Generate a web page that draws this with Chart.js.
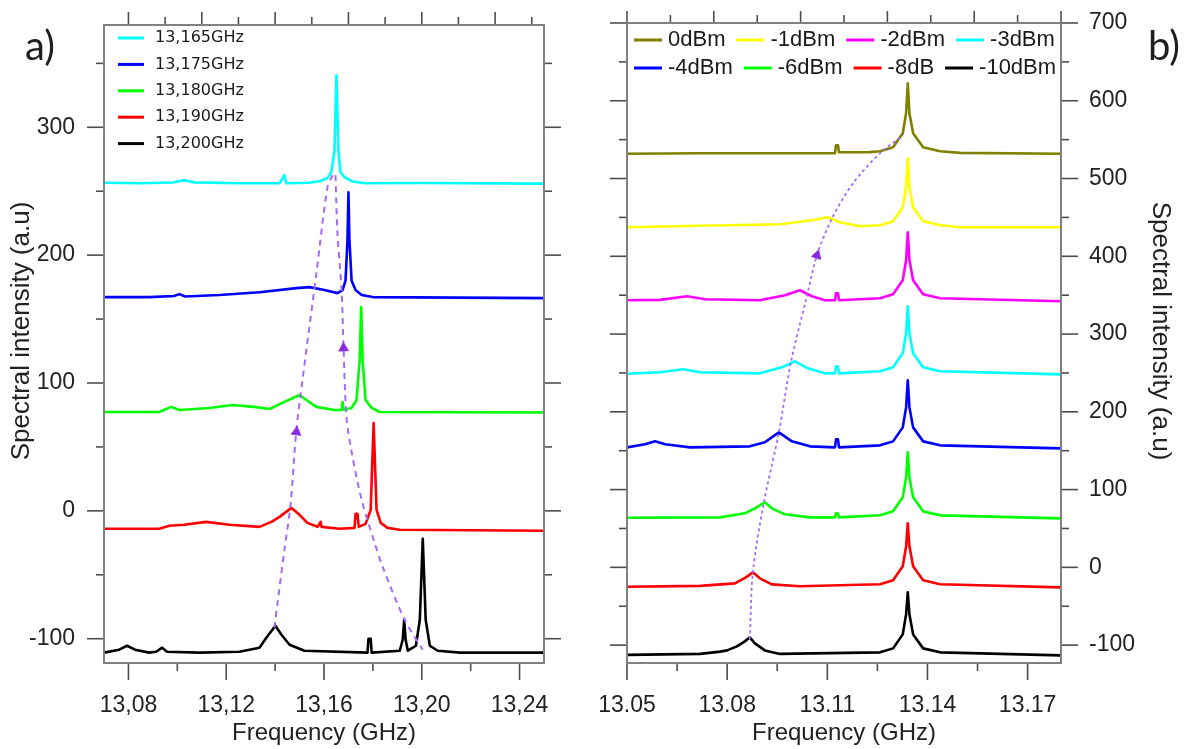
<!DOCTYPE html>
<html>
<head>
<meta charset="utf-8">
<title>Spectral intensity vs frequency</title>
<script src="https://cdn.jsdelivr.net/npm/chart.js@4.4.1/dist/chart.umd.min.js"></script>
<style>
  html, body { margin: 0; padding: 0; background: #ffffff; }
  #wrap { position: relative; width: 1185px; height: 749px; overflow: hidden; background: #ffffff; }
  #wrap canvas { position: absolute; top: 0; }
  #cA { left: 0; }
  #cB { left: 590px; }
</style>
</head>
<body>
<div id="wrap">
  <canvas id="cA" width="590" height="749"></canvas>
  <canvas id="cB" width="595" height="749"></canvas>
</div>
<script>
const FONT = '"Liberation Sans", Arial, Helvetica, sans-serif';

// ---------- panel a): spectra for several injection frequencies ----------
const keysA = ['13,165GHz', '13,175GHz', '13,180GHz', '13,190GHz', '13,200GHz'];

const specA165 = [[13.070, 256.6], [13.085, 256.2], [13.098, 256.8], [13.1028, 258.6], [13.107, 256.9], [13.125, 256.2], [13.1418, 256.2], [13.1438, 262.5], [13.1446, 256.2], [13.154, 256.6], [13.158, 257.8], [13.1614, 260.2], [13.163, 265], [13.1643, 282], [13.1647, 313], [13.1651, 340.6], [13.1655, 313], [13.1659, 282], [13.1667, 265], [13.1684, 261], [13.1713, 257.8], [13.1766, 256.2], [13.200, 256.4], [13.250, 255.9]];

const specA175 = [[13.070, 167.2], [13.0885, 167.2], [13.0987, 168], [13.1008, 169.5], [13.1032, 167.6], [13.1172, 168.8], [13.1336, 171], [13.1487, 174.2], [13.154, 175], [13.1602, 172.7], [13.1655, 170.3], [13.1676, 172.7], [13.1688, 180], [13.1696, 211.7], [13.170, 249.2], [13.1704, 211.7], [13.1713, 180], [13.1729, 172.7], [13.1754, 168.8], [13.1799, 167.2], [13.250, 166.4]];

const specA180 = [[13.070, 77.3], [13.0926, 77.3], [13.0975, 81.3], [13.1008, 78.9], [13.1131, 80.5], [13.1225, 82.8], [13.1315, 81.3], [13.1377, 79.7], [13.1438, 85.2], [13.150, 90.6], [13.1528, 86.7], [13.1569, 81.3], [13.1643, 78.9], [13.1672, 78.9], [13.1676, 85.2], [13.168, 78.9], [13.1713, 80.5], [13.1733, 86.7], [13.1746, 118], [13.1752, 159.4], [13.1758, 118], [13.177, 86.7], [13.1795, 80.5], [13.1828, 77.3], [13.250, 76.9]];

const specA190 = [[13.070, -14], [13.0926, -14], [13.0967, -11.7], [13.1028, -10.9], [13.1118, -8.6], [13.1213, -10.9], [13.1336, -12.5], [13.1385, -8.6], [13.1418, -4.7], [13.1467, 2.3], [13.150, -3.1], [13.1532, -9.4], [13.1574, -12.5], [13.1586, -8.6], [13.159, -12.5], [13.1664, -14], [13.1725, -13.3], [13.1729, -2.3], [13.1737, -2.3], [13.1742, -12.5], [13.177, -10.2], [13.1791, 0.8], [13.1803, 68.75], [13.1815, 0.8], [13.1832, -9.4], [13.186, -13.3], [13.191, -14.8], [13.250, -15.6]];

const specA200 = [[13.070, -110.9], [13.0762, -108.6], [13.0794, -105.5], [13.0827, -108.6], [13.0885, -110.9], [13.0913, -110.2], [13.0938, -107], [13.0958, -110.2], [13.109, -110.9], [13.1254, -110.2], [13.1336, -107], [13.1364, -99.2], [13.1401, -89.8], [13.1426, -96.9], [13.1459, -104.7], [13.152, -109.4], [13.1778, -110.9], [13.1782, -100], [13.1791, -100], [13.1795, -110.9], [13.191, -109.4], [13.1922, -100.8], [13.1928, -85.2], [13.1934, -100.8], [13.1943, -109.4], [13.1976, -105.5], [13.1992, -85.2], [13.2004, -21.9], [13.2016, -85.2], [13.2033, -105.5], [13.2065, -109.4], [13.2156, -110.9], [13.250, -110.9]];

// guide curves following the two peak families, with arrow heads
const guideA1 = [[13.1397, -91.4], [13.1438, -30.5], [13.1463, 4.7], [13.1487, 63.3], [13.1512, 102.3], [13.1569, 186], [13.1614, 253], [13.1635, 262.5]];
const guideA2 = [[13.1647, 262.5], [13.1655, 217.2], [13.1672, 172.7], [13.168, 127.3], [13.1692, 73.4], [13.1713, 46], [13.1754, 8.6], [13.1807, -25], [13.184, -43.8], [13.193, -85.2], [13.2004, -108.6]];
const arrowsA = [[13.1487, 61.7], [13.168, 127.3]];

const xTicksA = [13.08, 13.12, 13.16, 13.20, 13.24];
const xMinorA = [13.10, 13.14, 13.18, 13.22];
const topTicksA = [13.08, 13.11, 13.14, 13.17, 13.20, 13.23];
const topMinorA = [13.095, 13.125, 13.155, 13.185, 13.215, 13.245];
const yTicksA = [-100, 0, 100, 200, 300];
const yMinorA = [-50, 50, 150, 250, 350];

// ---------- panel b): spectra for several injected powers ----------
const keysB = ['0dBm', '-1dBm', '-2dBm', '-3dBm', '-4dBm', '-6dBm', '-8dB', '-10dBm'];

const specB0 = [[13.050, 531.8], [13.0719, 532.5], [13.0988, 532.5], [13.1123, 532.5], [13.1126, 542.8], [13.1132, 542.8], [13.1135, 533.8], [13.1228, 534], [13.1258, 535.1], [13.1297, 540.2], [13.1326, 558.2], [13.1336, 583.9], [13.1341, 622.5], [13.1346, 583.9], [13.1357, 558.2], [13.1387, 540.2], [13.1438, 535.1], [13.1498, 533], [13.180, 531.8]];

const specB1 = [[13.050, 437.3], [13.0719, 439.2], [13.0958, 441.2], [13.1054, 446.3], [13.1102, 450.2], [13.1138, 443.7], [13.1198, 438.6], [13.1258, 439.9], [13.1297, 445], [13.1326, 463], [13.1336, 488.7], [13.1341, 526], [13.1346, 488.7], [13.1357, 463], [13.1387, 445], [13.1438, 439.9], [13.1498, 437.3], [13.180, 437.3]];

const specB2 = [[13.050, 343.4], [13.0599, 344], [13.068, 348.6], [13.0734, 344.7], [13.0898, 343.4], [13.0973, 349.8], [13.1018, 356.3], [13.1054, 348.6], [13.1093, 343.4], [13.1123, 343.4], [13.1126, 352.4], [13.1132, 352.4], [13.1135, 343.4], [13.1258, 346], [13.1297, 351.1], [13.1326, 369.1], [13.1336, 394.8], [13.1341, 430.9], [13.1346, 394.8], [13.1357, 369.1], [13.1387, 351.1], [13.1438, 346], [13.180, 342.1]];

const specB3 = [[13.050, 248.9], [13.0599, 250.8], [13.0668, 254.7], [13.0719, 250.8], [13.0898, 249.5], [13.0964, 257.2], [13.1003, 265], [13.1042, 256], [13.1093, 249.5], [13.1123, 249.5], [13.1126, 258.5], [13.1132, 258.5], [13.1135, 249.5], [13.1258, 252.1], [13.1297, 257.2], [13.1326, 275.2], [13.1336, 300.9], [13.1341, 335.7], [13.1346, 300.9], [13.1357, 275.2], [13.1387, 257.2], [13.1438, 252.1], [13.180, 248.2]];

const specB4 = [[13.050, 154.3], [13.0554, 158.2], [13.0584, 162], [13.0614, 158.2], [13.0689, 154.3], [13.0868, 155.6], [13.0913, 160.8], [13.0955, 173.6], [13.0994, 162], [13.1048, 155.6], [13.1123, 154.3], [13.1126, 164.6], [13.1132, 164.6], [13.1135, 154.3], [13.1258, 156.9], [13.1297, 162], [13.1326, 180], [13.1336, 205.7], [13.1341, 240.5], [13.1346, 205.7], [13.1357, 180], [13.1387, 162], [13.1438, 156.9], [13.180, 153]];

const specB6 = [[13.050, 63.7], [13.0779, 64.3], [13.0853, 69.5], [13.0883, 75.9], [13.0913, 83.6], [13.0934, 75.9], [13.0973, 68.2], [13.1048, 64.3], [13.1123, 64.3], [13.1126, 69.5], [13.1132, 69.5], [13.1135, 64.3], [13.1258, 66.9], [13.1297, 72], [13.1326, 90], [13.1336, 115.7], [13.1341, 147.9], [13.1346, 115.7], [13.1357, 90], [13.1387, 72], [13.1438, 66.9], [13.180, 63]];

const specB8 = [[13.050, -25], [13.0719, -23.8], [13.0823, -20.6], [13.0856, -12.9], [13.0877, -6.4], [13.0898, -14.1], [13.0934, -21.9], [13.1018, -24.4], [13.1258, -21.8], [13.1297, -16.7], [13.1326, 1.3], [13.1336, 27], [13.1341, 56.6], [13.1346, 27], [13.1357, 1.3], [13.1387, -16.7], [13.1438, -21.8], [13.180, -25.7]];

const specB10 = [[13.050, -112.5], [13.0719, -111.3], [13.0779, -108.4], [13.080, -106.8], [13.0829, -101.6], [13.0853, -95.2], [13.0868, -90], [13.0883, -97.7], [13.0913, -106.8], [13.0958, -111.3], [13.1258, -109.3], [13.1297, -104.2], [13.1326, -86.2], [13.1336, -60.5], [13.1341, -32.2], [13.1346, -60.5], [13.1357, -86.2], [13.1387, -104.2], [13.1438, -109.3], [13.180, -113.2]];

const guideB = [[13.0868, -92], [13.0877, -6.4], [13.091, 83.6], [13.0955, 173.6], [13.0991, 263.7], [13.1038, 347.3], [13.1069, 401.3], [13.1114, 448.9], [13.1177, 493.9], [13.1258, 532.5], [13.1327, 555.6]];
const arrowsB = [[13.1069, 401.3]];

const xTicksB = [13.05, 13.08, 13.11, 13.14, 13.17];
const xMinorB = [13.065, 13.095, 13.125, 13.155];
const topTicksB = [13.05, 13.076, 13.102, 13.128, 13.154, 13.18];
const topMinorB = [13.063, 13.089, 13.115, 13.141, 13.167];
const yTicksB = [-100, 0, 100, 200, 300, 400, 500, 600, 700];
const yMinorB = [-50, 50, 150, 250, 350, 450, 550, 650];

// ---------- drawing helpers ----------
const GUIDE = '#A86AF5';
const ARROW = '#8A2BE2';

const toXY = pts => pts.map(([x, y]) => ({ x, y }));

function trace(label, pts, color) {
  return {
    label, key: true, data: toXY(pts),
    borderColor: color, backgroundColor: color, borderWidth: 2.6,
    borderJoinStyle: 'round', borderCapStyle: 'round',
    showLine: true, pointRadius: 0, tension: 0, fill: false
  };
}
function guide(pts, dash, width) {
  return {
    label: '', key: false, data: toXY(pts),
    borderColor: GUIDE, borderWidth: width, borderDash: dash,
    showLine: true, pointRadius: 0, tension: 0.3, fill: false
  };
}
function arrows(pts, rotations) {
  return {
    label: '', key: false, data: toXY(pts), showLine: false,
    pointStyle: 'triangle', pointRadius: 5.5, pointRotation: rotations,
    pointBackgroundColor: ARROW, pointBorderColor: ARROW, pointBorderWidth: 1
  };
}

// frame, tick marks, in-plot key, rotated y title and panel tag
const panelDecor = {
  id: 'panelDecor',
  afterDraw(chart, args, o) {
    const { ctx, chartArea: a } = chart;
    const xs = chart.scales.x, ys = chart.scales.y;
    const seg = (x1, y1, x2, y2) => { ctx.beginPath(); ctx.moveTo(x1, y1); ctx.lineTo(x2, y2); ctx.stroke(); };
    ctx.save();
    ctx.lineCap = 'butt';
    ctx.strokeStyle = o.tickColor;
    ctx.lineWidth = 1.6;
    [[o.xMajor, o.majorLen], [o.xMinor, o.minorLen]].forEach(([vals, len]) =>
      vals.forEach(v => { const p = xs.getPixelForValue(v); seg(p, a.bottom, p, a.bottom + len); }));
    [[o.topMajor, o.topMajorLen], [o.topMinor, o.topMinorLen]].forEach(([vals, len]) =>
      vals.forEach(v => { const p = xs.getPixelForValue(v); seg(p, a.top, p, a.top - len); }));
    [[o.yMajor, o.majorLen], [o.yMinor, o.minorLen]].forEach(([vals, len]) =>
      vals.forEach(v => { const p = ys.getPixelForValue(v); seg(a.left, p, a.left - len, p); seg(a.right, p, a.right + len, p); }));
    ctx.strokeStyle = o.frameColor;
    ctx.lineWidth = 2;
    ctx.strokeRect(a.left, a.top, a.right - a.left, a.bottom - a.top);

    // key
    const lg = o.legend;
    ctx.font = lg.font;
    ctx.textBaseline = 'middle';
    ctx.textAlign = 'left';
    let x = a.left + lg.x0;
    chart.data.datasets.filter(d => d.key).forEach((d, i) => {
      const row = Math.floor(i / lg.perRow), col = i % lg.perRow;
      if (col === 0) x = a.left + lg.x0;
      const y = a.top + lg.y0 + row * lg.rowGap;
      ctx.strokeStyle = d.borderColor;
      ctx.lineWidth = lg.lineWidth;
      seg(x, y, x + lg.lineLen, y);
      ctx.fillStyle = lg.color;
      ctx.fillText(d.label, x + lg.lineLen + lg.textGap, y);
      x += lg.lineLen + lg.textGap + ctx.measureText(d.label).width + lg.itemGap;
    });

    // y title
    const t = o.yTitle;
    ctx.save();
    ctx.translate(t.x, t.y);
    ctx.rotate(t.rotation);
    ctx.font = t.font;
    ctx.fillStyle = t.color;
    ctx.textAlign = 'center';
    ctx.textBaseline = 'middle';
    ctx.fillText(t.text, 0, 0);
    ctx.restore();

    // panel tag
    const g = o.tag;
    ctx.font = g.font;
    ctx.fillStyle = g.color;
    ctx.textAlign = 'left';
    ctx.textBaseline = 'alphabetic';
    ctx.fillText(g.text, g.x, g.y);
    ctx.restore();
  }
};

// invisible tick marks keep the labels clear of the frame without adding layout padding
const hiddenGrid = gap => ({ display: true, drawOnChartArea: false, drawTicks: true, tickLength: gap, tickColor: 'rgba(0,0,0,0)', color: 'rgba(0,0,0,0)' });

function xAxis(min, max, ticks, fmt) {
  return {
    type: 'linear', position: 'bottom', min, max,
    afterBuildTicks: s => { s.ticks = ticks.map(v => ({ value: v })); },
    afterFit: s => { s.height = 86; },
    grid: hiddenGrid(29),
    border: { display: false },
    ticks: { autoSkip: false, maxRotation: 0, minRotation: 0, padding: 0, color: '#222', font: { family: FONT, size: 23 }, callback: fmt },
    title: { display: true, text: 'Frequency (GHz)', color: '#222', font: { family: FONT, size: 24 }, padding: { top: 0, bottom: 1 } }
  };
}
function yAxis(min, max, ticks, side, width, gap) {
  return {
    type: 'linear', position: side, min, max,
    afterBuildTicks: s => { s.ticks = ticks.map(v => ({ value: v })); },
    afterFit: s => { s.width = width; },
    grid: hiddenGrid(gap),
    border: { display: false },
    ticks: { autoSkip: false, padding: 0, color: '#222', font: { family: FONT, size: 23 }, callback: v => String(v) }
  };
}

const common = {
  responsive: false, animation: false, events: [],
  plugins: { legend: { display: false }, tooltip: { enabled: false } }
};

// ---------- panel a) ----------
const colorsA = ['#00FFFF', '#0000FF', '#00FF00', '#FF0000', '#000000'];
new Chart(document.getElementById('cA'), {
  type: 'scatter',
  data: {
    datasets: [
      arrows(arrowsA, [7, -2]),
      guide(guideA1, [6, 5], 2),
      guide(guideA2, [6, 5], 2),
      trace(keysA[0], specA165, colorsA[0]),
      trace(keysA[1], specA175, colorsA[1]),
      trace(keysA[2], specA180, colorsA[2]),
      trace(keysA[3], specA190, colorsA[3]),
      trace(keysA[4], specA200, colorsA[4])
    ]
  },
  options: Object.assign({}, common, {
    layout: { padding: { top: 25, right: 46, left: 0, bottom: 0 } },
    scales: {
      x: xAxis(13.07, 13.25, xTicksA, v => v.toFixed(2).replace('.', ',')),
      y: yAxis(-119, 380, yTicksA, 'left', 104, 29)
    },
    plugins: Object.assign({}, common.plugins, {
      panelDecor: {
        xMajor: xTicksA, xMinor: xMinorA, topMajor: topTicksA, topMinor: topMinorA,
        yMajor: yTicksA, yMinor: yMinorA,
        majorLen: 17, minorLen: 8, topMajorLen: 13, topMinorLen: 8,
        tickColor: '#4d4d4d', frameColor: '#808080',
        legend: { x0: 14, y0: 13, rowGap: 26.4, perRow: 1, lineLen: 26, lineWidth: 3, textGap: 11, itemGap: 0, font: '16px "DejaVu Sans", Verdana, sans-serif', color: '#1a1a1a' },
        yTitle: { text: 'Spectral intensity (a.u)', x: 22, y: 331, rotation: -Math.PI / 2, font: '26px ' + FONT, color: '#222' },
        tag: { text: 'a)', x: 25, y: 60, font: '40px Lato, "Open Sans", sans-serif', color: '#1f1f1f' }
      }
    })
  }),
  plugins: [panelDecor]
});

// ---------- panel b) ----------
const colorsB = ['#808000', '#FFFF00', '#FF00FF', '#00FFFF', '#0000FF', '#00FF00', '#FF0000', '#000000'];
const specsB = [specB0, specB1, specB2, specB3, specB4, specB6, specB8, specB10];
new Chart(document.getElementById('cB'), {
  type: 'scatter',
  data: {
    datasets: [
      arrows(arrowsB, [17]),
      guide(guideB, [3, 3], 1.8)
    ].concat(specsB.map((s, i) => trace(keysB[i], s, colorsB[i])))
  },
  options: Object.assign({}, common, {
    layout: { padding: { top: 23, right: 0, left: 37, bottom: 0 } },
    scales: {
      x: xAxis(13.05, 13.18, xTicksB, v => v.toFixed(2)),
      y: yAxis(-123, 700, yTicksB, 'right', 124, 28)
    },
    plugins: Object.assign({}, common.plugins, {
      panelDecor: {
        xMajor: xTicksB, xMinor: xMinorB, topMajor: topTicksB, topMinor: topMinorB,
        yMajor: yTicksB, yMinor: yMinorB,
        majorLen: 17, minorLen: 8, topMajorLen: 12, topMinorLen: 8,
        tickColor: '#4d4d4d', frameColor: '#808080',
        legend: { x0: 7, y0: 17, rowGap: 28, perRow: 4, lineLen: 28, lineWidth: 3, textGap: 6, itemGap: 11, font: '22px ' + FONT, color: '#1a1a1a' },
        yTitle: { text: 'Spectral intensity (a.u)', x: 570, y: 331, rotation: Math.PI / 2, font: '26px ' + FONT, color: '#222' },
        tag: { text: 'b)', x: 558, y: 60, font: '40px Lato, "Open Sans", sans-serif', color: '#1f1f1f' }
      }
    })
  }),
  plugins: [panelDecor]
});
</script>
</body>
</html>
